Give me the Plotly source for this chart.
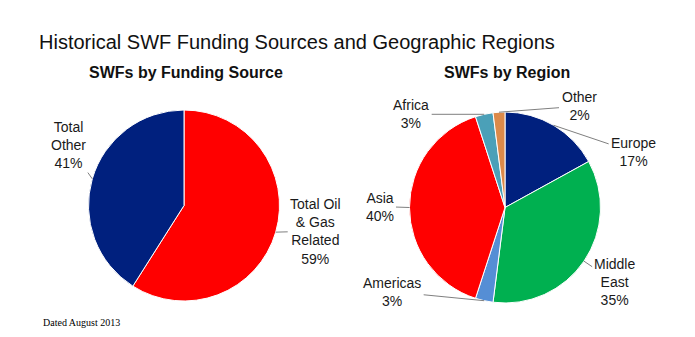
import math
import plotly.graph_objects as go

# ---- data ----
fund_labels = ["Total Oil<br>& Gas<br>Related", "Total<br>Other"]
fund_values = [59, 41]
fund_colors = ["#FF0000", "#00207E"]

region_labels = ["Europe", "Middle<br>East", "Americas", "Asia", "Africa", "Other"]
region_values = [17, 35, 3, 40, 3, 2]
region_colors = ["#00207E", "#00B050", "#558ED5", "#FF0000", "#4BA0B8", "#DC8A4A"]

title = "Historical SWF Funding Sources and Geographic Regions"
sub_left = "SWFs by Funding Source"
sub_right = "SWFs by Region"
footnote = "Dated August 2013"

# ---- layout geometry (pixels) ----
W, H = 695, 337
L_CX, L_CY, L_R = 184, 205.5, 95.5
R_CX, R_CY, R_R = 505, 207.5, 95.5

# label offsets (pixels, from slice mid-point on rim to label centre)
fund_offsets = [(40, -1), (-24, -34)]
region_offsets = [(80, 27), (31, 21), (-92, -9), (-30, -1), (-73, 0), (80, -6)]


def domain(cx, cy, r):
    return dict(x=[(cx - r) / W, (cx + r) / W], y=[1 - (cy + r) / H, 1 - (cy - r) / H])


def pie(values, colors, cx, cy, r):
    return go.Pie(
        values=values, marker=dict(colors=colors, line=dict(color="white", width=1)),
        sort=False, direction="clockwise", rotation=0, textinfo="none",
        hoverinfo="percent", domain=domain(cx, cy, r), showlegend=False,
    )


def label_annots(labels, values, offsets, cx, cy, r):
    tot = sum(values)
    out = []
    cum = 0
    for lab, v, (ax, ay) in zip(labels, values, offsets):
        mid = (cum + v / 2) / tot * 2 * math.pi
        cum += v
        px = cx + r * math.sin(mid)
        py = cy - r * math.cos(mid)
        pct = round(v / tot * 100)
        out.append(dict(
            x=px / W, y=1 - py / H, xref="paper", yref="paper",
            text=f"{lab}<br>{pct}%", showarrow=True, arrowhead=0, arrowwidth=1,
            arrowcolor="#7f7f7f", ax=ax, ay=ay, standoff=0, startstandoff=1,
            font=dict(family="Liberation Sans, Arial", size=14, color="#1a1a1a"),
            align="center",
        ))
    return out


fig = go.Figure()
fig.add_trace(pie(fund_values, fund_colors, L_CX, L_CY, L_R))
fig.add_trace(pie(region_values, region_colors, R_CX, R_CY, R_R))

annots = label_annots(fund_labels, fund_values, fund_offsets, L_CX, L_CY, L_R)
annots += label_annots(region_labels, region_values, region_offsets, R_CX, R_CY, R_R)

annots += [
    dict(x=37 / W, y=1 - 42 / H, xref="paper", yref="paper", xanchor="left", yanchor="middle",
         text=title, showarrow=False,
         font=dict(family="Liberation Sans, Arial", size=20, color="#111111")),
    dict(x=186 / W, y=1 - 72 / H, xref="paper", yref="paper", xanchor="center", yanchor="middle",
         text=f"<b>{sub_left}</b>", showarrow=False,
         font=dict(family="Liberation Sans, Arial", size=16, color="#111111")),
    dict(x=507 / W, y=1 - 72 / H, xref="paper", yref="paper", xanchor="center", yanchor="middle",
         text=f"<b>{sub_right}</b>", showarrow=False,
         font=dict(family="Liberation Sans, Arial", size=16, color="#111111")),
    dict(x=41 / W, y=1 - 322 / H, xref="paper", yref="paper", xanchor="left", yanchor="middle",
         text=footnote, showarrow=False,
         font=dict(family="Liberation Serif, Times New Roman", size=10, color="#000000")),
]

fig.update_layout(
    width=W, height=H, margin=dict(l=0, r=0, t=0, b=0),
    paper_bgcolor="white", plot_bgcolor="white", annotations=annots,
)

fig.write_html("out.html")
